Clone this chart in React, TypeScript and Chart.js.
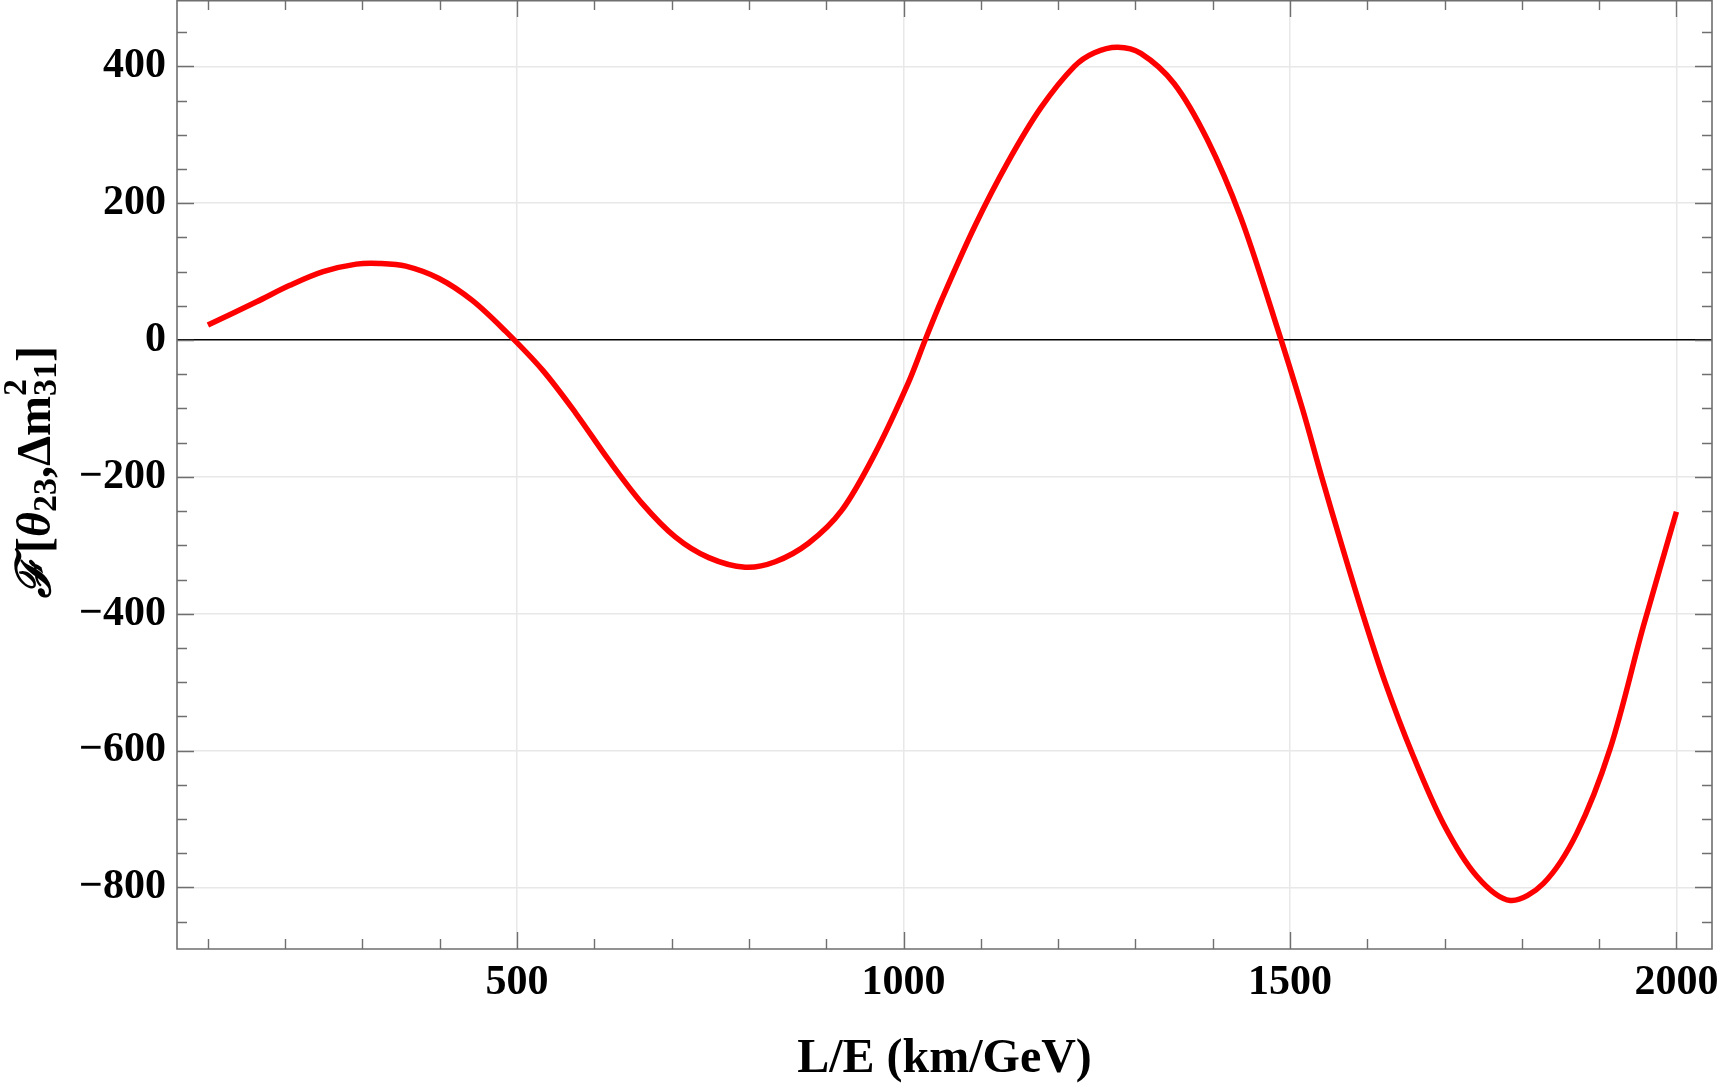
import React, { useEffect, useRef } from "react";
import { Chart, registerables } from "chart.js";

Chart.register(...registerables);

// L/E (km/GeV) sample positions
const xValues = [
  100, 163, 206, 249, 292, 322, 356, 399, 442, 485, 533, 576, 619, 662,
  705, 748, 795, 834, 877, 920, 963, 1006, 1028, 1049, 1092, 1135, 1178, 1221,
  1247, 1277, 1307, 1350, 1393, 1436, 1479, 1516, 1541, 1567, 1594, 1623, 1658,
  1699, 1742, 1785, 1828, 1871, 1914, 1957, 2000,
];
// F[theta23, dm31^2] values
const yValues = [
  22, 56, 80, 100, 111, 112, 108, 90, 58, 13, -44, -107, -176, -239,
  -288, -318, -332, -324, -297, -249, -166, -63, 0, 58, 166, 260, 340, 400,
  420, 428, 419, 375, 293, 180, 34, -100, -200, -300, -400, -500, -604,
  -708, -784, -819, -794, -721, -598, -419, -251,
];

const xTickValues = [500, 1000, 1500, 2000];
const yTickValues = [-800, -600, -400, -200, 0, 200, 400];
const xMinorStep = 100;
const yMinorStep = 50;

const X_MIN = 60;
const X_MAX = 2046;
const Y_MIN = -890;
const Y_MAX = 497;

const SERIF = '"Liberation Serif", "Times New Roman", "DejaVu Serif", serif';

const framePlugin = {
  id: "frameAndTitles",
  afterDraw(chart: any) {
    const { ctx, chartArea, scales } = chart;
    const { left, right, top, bottom } = chartArea;
    const xs = scales.x;
    const ys = scales.y;
    ctx.save();
    // frame
    ctx.strokeStyle = "#6f6f6f";
    ctx.lineWidth = 1.6;
    ctx.beginPath();
    ctx.rect(left, top + 0.8, right - left, bottom - top - 0.8);
    ctx.stroke();
    // ticks
    ctx.lineWidth = 1.4;
    ctx.beginPath();
    for (let v = Math.ceil(X_MIN / xMinorStep) * xMinorStep; v <= X_MAX; v += xMinorStep) {
      const px = Math.round(xs.getPixelForValue(v)) + 0.5;
      const len = v % 500 === 0 ? 17 : 10;
      ctx.moveTo(px, bottom);
      ctx.lineTo(px, bottom - len);
      ctx.moveTo(px, top);
      ctx.lineTo(px, top + len);
    }
    for (let v = Math.ceil(Y_MIN / yMinorStep) * yMinorStep; v <= Y_MAX; v += yMinorStep) {
      const py = Math.round(ys.getPixelForValue(v)) + 0.5;
      const len = v % 200 === 0 ? 17 : 10;
      ctx.moveTo(left, py);
      ctx.lineTo(left + len, py);
      ctx.moveTo(right, py);
      ctx.lineTo(right - len, py);
    }
    ctx.stroke();

    // x title
    ctx.fillStyle = "#000";
    ctx.font = `bold 48px ${SERIF}`;
    ctx.textAlign = "center";
    ctx.textBaseline = "alphabetic";
    ctx.fillText("L/E (km/GeV)", (left + right) / 2, 1072);

    // y title (rotated, rich text)
    ctx.translate(50, 598);
    ctx.rotate(-Math.PI / 2);
    ctx.textAlign = "left";
    let cx = 0;
    const seg = (t: string, font: string, dy: number) => {
      ctx.font = font;
      ctx.fillText(t, cx, dy);
      return ctx.measureText(t).width;
    };
    const main = `bold 48px ${SERIF}`;
    const ital = `italic bold 48px ${SERIF}`;
    const small = `bold 34px ${SERIF}`;
    cx += seg("\u2131", `italic bold 48px "DejaVu Serif", ${SERIF}`, 0) + 5;
    cx += seg("[", main, 0);
    cx += seg("\u03B8", ital, 0);
    cx += seg("23", small, 6);
    cx += seg(",", main, 0);
    cx += seg("\u0394", main, 0);
    cx += seg("m", main, 0);
    const w1 = seg("2", small, -24);
    const w2 = seg("31", small, 6);
    cx += Math.max(w1, w2);
    cx += seg("]", main, 0);
    ctx.restore();
  },
};

export default function App() {
  const ref = useRef<HTMLCanvasElement | null>(null);

  useEffect(() => {
    if (!ref.current) return;
    const points = xValues.map((x, i) => ({ x, y: yValues[i] }));
    const chart = new Chart(ref.current, {
      type: "line",
      data: {
        datasets: [
          {
            data: points,
            borderColor: "#ff0000",
            borderWidth: 5.5,
            pointRadius: 0,
            fill: false,
            tension: 0.33,
          },
        ],
      },
      options: {
        animation: false,
        responsive: false,
        devicePixelRatio: 1,
        layout: { padding: { left: 0, right: 16, top: 0, bottom: 0 } },
        plugins: { legend: { display: false }, tooltip: { enabled: false } },
        scales: {
          x: {
            type: "linear",
            min: X_MIN,
            max: X_MAX,
            border: { display: false },
            grid: {
              drawTicks: false,
              color: "#e8e8e8",
              lineWidth: 1.5,
            },
            ticks: {
              padding: 9,
              color: "#000",
              font: { family: SERIF, size: 42, weight: "bold" },
              maxRotation: 0,
              callback: (v: any) => String(v),
            },
            afterBuildTicks: (scale: any) => {
              scale.ticks = xTickValues.map((v) => ({ value: v }));
            },
            afterFit: (scale: any) => {
              scale.height = 135;
              scale.paddingLeft = 0;
              scale.paddingRight = 0;
            },
          },
          y: {
            type: "linear",
            min: Y_MIN,
            max: Y_MAX,
            border: { display: false },
            grid: {
              drawTicks: false,
              color: (c: any) => (c.tick && c.tick.value === 0 ? "#000000" : "#e8e8e8"),
              lineWidth: (c: any) => (c.tick && c.tick.value === 0 ? 1.6 : 1.5),
            },
            ticks: {
              padding: 11,
              color: "#000",
              font: { family: SERIF, size: 42, weight: "bold" },
              callback: (v: any) => (v < 0 ? "\u2212" + Math.abs(v) : String(v)),
            },
            afterBuildTicks: (scale: any) => {
              scale.ticks = yTickValues.map((v) => ({ value: v }));
            },
            afterFit: (scale: any) => {
              scale.width = 177;
              scale.paddingTop = 0;
              scale.paddingBottom = 0;
            },
          },
        },
      },
      plugins: [framePlugin],
    });
    return () => chart.destroy();
  }, []);

  return (
    <div style={{ position: "fixed", left: 0, top: 0, width: 1728, height: 1084, background: "#fff" }}>
      <canvas ref={ref} width={1728} height={1084} style={{ width: 1728, height: 1084, display: "block" }} />
    </div>
  );
}
